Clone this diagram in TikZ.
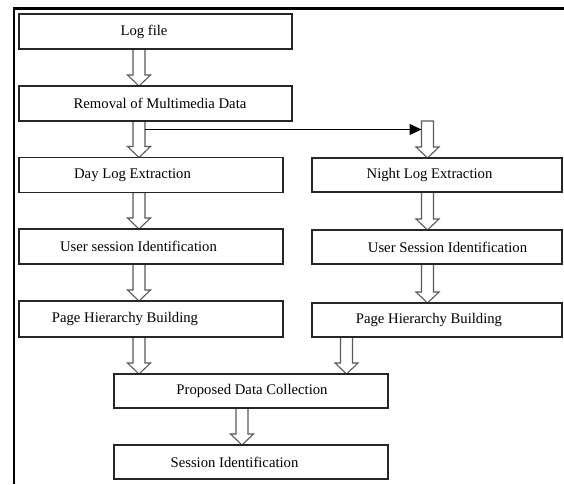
\documentclass[tikz,border=0pt]{standalone}
\usepackage{fontspec}
\setmainfont{Liberation Serif}
\usetikzlibrary{arrows.meta,calc,backgrounds}

\begin{document}
\begin{tikzpicture}[
		x=1pt,
		y=-1pt,
		line join=miter,
		stage/.style={rectangle,draw=black!85,line width=1.3pt,fill=white,minimum height=35pt,inner sep=0pt,outer sep=0pt},
		lbl/.style={font=\fontsize{14.7}{17}\selectfont,inner sep=0pt},
		frame/.style={line width=2.6pt,black},
		hollow/.style={draw=black!65,line width=1.1pt,fill=white,
			to path={let \p1=(\tikztostart), \p2=(\tikztotarget) in
				(\x1-6pt,\y1) -- (\x1-6pt,\y2+11pt) -- (\x1-11.5pt,\y2+11pt) -- (\x1,\y2)
				-- (\x1+11.5pt,\y2+11pt) -- (\x1+6pt,\y2+11pt) -- (\x1+6pt,\y1) -- cycle}},
		link/.style={-{Triangle[length=12pt,width=11pt]},line width=1.3pt}
	]
	
	\useasboundingbox (0,0) rectangle (564,484);
	
	% Outer frame (top and left edges)
	\draw[frame] (14,484) -- (14,8.5) -- (564,8.5);
	
	% Arrow columns
	\coordinate (colL) at (139,0);
	\coordinate (colR) at (427.5,0);
	\coordinate (colM) at (346.5,0);
	\coordinate (colS) at (242,0);
	
	% Common stages
	\node[stage,minimum width=273pt] (log) at (155.5,31.5) {};
	\node[lbl] (log-t) at (144,31.5) {Log file};
	\node[stage,minimum width=273pt] (rem) at (155.5,103.5) {};
	\node[lbl] (rem-t) at (160,103.5) {Removal of Multimedia Data};
	
	% Day branch
	\node[stage,minimum width=264pt] (day) at (151,175) {};
	\node[lbl] (day-t) at (132.5,175) {Day Log Extraction};
	\node[stage,minimum width=264pt] (usrL) at (151,246.5) {};
	\node[lbl] (usrL-t) at (138.5,246.5) {User session Identification};
	\node[stage,minimum width=264pt,minimum height=36pt] (pageL) at (151,319) {};
	\node[lbl] (pageL-t) at (125,319) {Page Hierarchy Building};
	
	% Night branch
	\node[stage,minimum width=250pt,minimum height=34pt] (night) at (437,175) {};
	\node[lbl] (night-t) at (429.5,175) {Night Log Extraction};
	\node[stage,minimum width=250pt,minimum height=34pt] (usrR) at (437,247) {};
	\node[lbl] (usrR-t) at (447.5,247) {User Session Identification};
	\node[stage,minimum width=250pt,minimum height=34pt] (pageR) at (437,320) {};
	\node[lbl] (pageR-t) at (429,320) {Page Hierarchy Building};
	
	% Merged stages
	\node[stage,minimum width=274pt,minimum height=34pt] (prop) at (251,391) {};
	\node[lbl] (prop-t) at (252,391) {Proposed Data Collection};
	\node[stage,minimum width=274pt,minimum height=34pt] (sess) at (251,462) {};
	\node[lbl] (sess-t) at (234.5,462) {Session Identification};
	
	% Block arrows, kept under the box borders
	\begin{scope}[on background layer]
		\draw[hollow] (log.south -| colL) to (rem.north -| colL);
		\draw[hollow] (rem.south -| colL) to (day.north -| colL);
		\draw[hollow] (day.south -| colL) to (usrL.north -| colL);
		\draw[hollow] (usrL.south -| colL) to (pageL.north -| colL);
		\draw[hollow] (pageL.south -| colL) to (prop.north -| colL);
		\draw[hollow] (rem.south -| colR) to (night.north -| colR);
		\draw[hollow] (night.south -| colR) to (usrR.north -| colR);
		\draw[hollow] (usrR.south -| colR) to (pageR.north -| colR);
		\draw[hollow] (pageR.south -| colM) to (prop.north -| colM);
		\draw[hollow] (prop.south -| colS) to (sess.north -| colS);
	\end{scope}
	
	% Split towards the night branch
	\draw[link] ($(rem.south -| colL)+(6,8.5)$) -- ($(rem.south -| colR)+(-6,8.5)$);
	
\end{tikzpicture}
\end{document}
